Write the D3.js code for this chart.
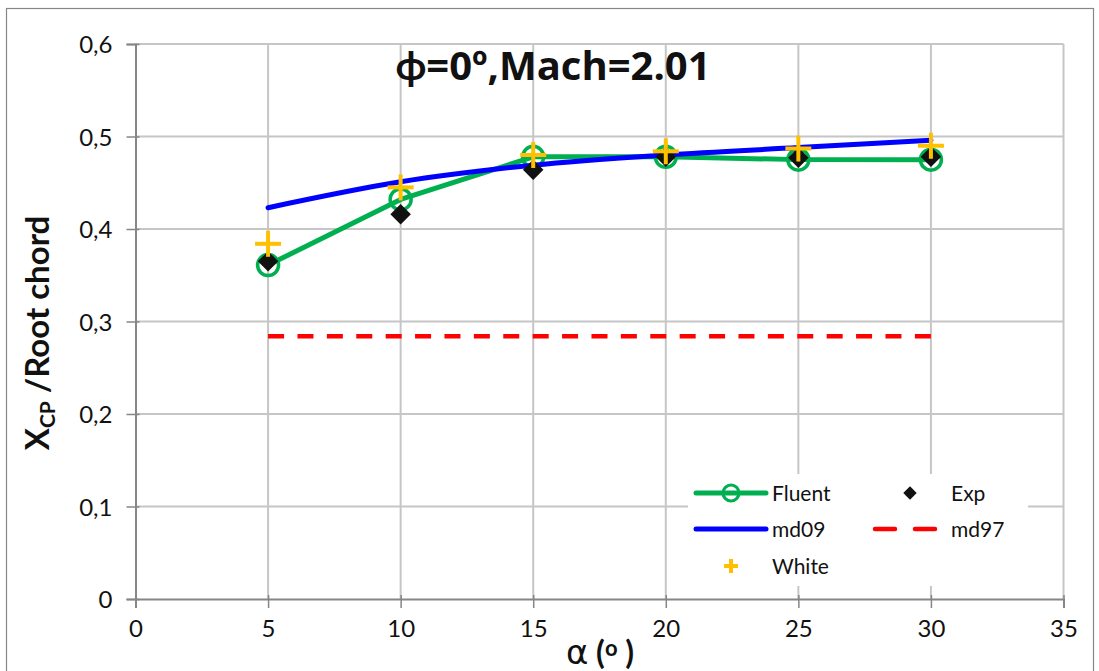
<!DOCTYPE html>
<html>
<head>
<meta charset="utf-8">
<script src="https://cdn.jsdelivr.net/npm/d3@7"></script>
<style>
  html, body { margin: 0; padding: 0; background: #fff; }
  svg { display: block; font-family: Lato, "Open Sans", "DejaVu Sans", sans-serif; }
</style>
</head>
<body>
<svg id="chart" width="1099" height="671"></svg>
<script>
// Angle of attack (deg)
const alpha = [5, 10, 15, 20, 25, 30];
// Centre of pressure position / root chord
const fluent = [0.361, 0.432, 0.478, 0.478, 0.475, 0.475];
const exp    = [0.365, 0.416, 0.464, 0.478, 0.477, 0.478];
const white  = [0.384, 0.445, 0.480, 0.484, 0.487, 0.490];
const md09   = [0.423, 0.451, 0.469, 0.480, 0.488, 0.496];
const md97   = [0.284, 0.284, 0.284, 0.284, 0.284, 0.284];

const xTicks = [0, 5, 10, 15, 20, 25, 30, 35];
const yTicks = [0, 0.1, 0.2, 0.3, 0.4, 0.5, 0.6];

const svg = d3.select("#chart");
const W = 1099, H = 671;
const plotL = 135.5, plotR = 1063.5, plotT = 44, plotB = 599;

const x = d3.scaleLinear().domain([0, 35]).range([plotL, plotR]);
const y = d3.scaleLinear().domain([0, 0.6]).range([plotB, plotT]);

// outer chart frame
svg.append("rect").attr("x", 6.5).attr("y", 8.5).attr("width", W - 12).attr("height", H - 4)
  .attr("fill", "#fff").attr("stroke", "#868686").attr("stroke-width", 1.2);

// grid lines
const grid = svg.append("g");
grid.selectAll(".gx").data(xTicks.slice(1)).join("line")
  .attr("x1", d => x(d)).attr("x2", d => x(d)).attr("y1", plotT).attr("y2", plotB)
  .attr("stroke", "#c6c6c6").attr("stroke-width", 2);
grid.selectAll(".gy").data(yTicks.slice(1)).join("line")
  .attr("x1", plotL).attr("x2", plotR).attr("y1", d => y(d)).attr("y2", d => y(d))
  .attr("stroke", "#c6c6c6").attr("stroke-width", 2);

const fmt = d => d === 0 ? "0" : d3.format(".1f")(d).replace(".", ",");

// axes
const xAxis = svg.append("g").attr("transform", `translate(0,${plotB})`)
  .call(d3.axisBottom(x).tickValues(xTicks).tickSize(9).tickPadding(12).tickFormat(d3.format("d")));
const yAxis = svg.append("g").attr("transform", `translate(${plotL},0)`)
  .call(d3.axisLeft(y).tickValues(yTicks).tickSize(9).tickPadding(14).tickFormat(fmt));
[xAxis, yAxis].forEach(a => {
  a.select(".domain").attr("stroke", "#868686").attr("stroke-width", 2);
  a.selectAll(".tick line").attr("stroke", "#868686").attr("stroke-width", 1.5);
  a.selectAll("text").attr("font-size", 24).attr("fill", "#111").attr("font-family", "Lato, 'Open Sans', sans-serif");
});
xAxis.selectAll(".tick line").attr("y1", -4);
yAxis.selectAll(".tick line").attr("x1", 4);
xAxis.selectAll("text").attr("dy", "0.71em");
yAxis.selectAll("text").attr("dy", "0.36em");

const pts = arr => alpha.map((a, i) => [a, arr[i]]);
const line = d3.line().x(d => x(d[0])).y(d => y(d[1]));
const smooth = d3.line().x(d => x(d[0])).y(d => y(d[1])).curve(d3.curveMonotoneX);

// Fluent
svg.append("path").attr("d", line(pts(fluent))).attr("fill", "none")
  .attr("stroke", "#00B050").attr("stroke-width", 5).attr("stroke-linejoin", "round");
svg.append("g").selectAll("circle").data(pts(fluent)).join("circle")
  .attr("cx", d => x(d[0])).attr("cy", d => y(d[1])).attr("r", 10.5)
  .attr("fill", "none").attr("stroke", "#00B050").attr("stroke-width", 3.5);

// md09
svg.append("path").attr("d", smooth(pts(md09))).attr("fill", "none")
  .attr("stroke", "#0000FF").attr("stroke-width", 5).attr("stroke-linecap", "round");

// md97
svg.append("path").attr("d", line(pts(md97))).attr("fill", "none")
  .attr("stroke", "#FF0000").attr("stroke-width", 4.5).attr("stroke-dasharray", "16,13.4");

// Exp
svg.append("g").selectAll("path").data(pts(exp)).join("path")
  .attr("d", d3.symbol().type(d3.symbolSquare).size(210))
  .attr("transform", d => `translate(${x(d[0])},${y(d[1])}) rotate(45)`)
  .attr("fill", "#111");

// White
const plus = (g, cx, cy, s, w) => {
  g.append("line").attr("x1", cx - s).attr("x2", cx + s).attr("y1", cy).attr("y2", cy)
    .attr("stroke", "#FFC000").attr("stroke-width", w);
  g.append("line").attr("x1", cx).attr("x2", cx).attr("y1", cy - s).attr("y2", cy + s)
    .attr("stroke", "#FFC000").attr("stroke-width", w);
};
const wg = svg.append("g");
pts(white).forEach(d => plus(wg, x(d[0]), y(d[1]), 13, 4));

// title
svg.append("text").attr("x", 553).attr("y", 80).attr("text-anchor", "middle")
  .attr("font-size", 40).attr("font-weight", "bold").attr("fill", "#111")
  .attr("font-family", "'Open Sans', Lato, sans-serif")
  .text("ϕ=0º,Mach=2.01");

// y axis title
const yt = svg.append("text").attr("transform", "translate(49,333) rotate(-90)")
  .attr("text-anchor", "middle").attr("font-size", 33).attr("font-weight", "bold").attr("fill", "#111");
yt.append("tspan").text("X");
yt.append("tspan").attr("font-size", 21).attr("dy", 6).text("CP");
yt.append("tspan").attr("dy", -6).text(" /Root chord");

// x axis title
const xt = svg.append("text").attr("x", 600).attr("y", 664).attr("text-anchor", "middle")
  .attr("font-size", 32).attr("fill", "#111");
xt.append("tspan").attr("font-family", "'DejaVu Sans', sans-serif").attr("font-size", 34).text("α");
xt.append("tspan").attr("font-weight", "bold").text(" (");
xt.append("tspan").attr("font-weight", "bold").attr("font-size", 22).attr("dy", -8).text("o");
xt.append("tspan").attr("font-weight", "bold").attr("dy", 8).text(" )");

// legend
const lg = svg.append("g");
lg.append("rect").attr("x", 688).attr("y", 474).attr("width", 340).attr("height", 112).attr("fill", "#fff");
const ltext = (tx, ty, s) => lg.append("text").attr("x", tx).attr("y", ty).attr("dy", "0.36em")
  .attr("font-size", 21).attr("fill", "#111").text(s);

lg.append("line").attr("x1", 696).attr("x2", 766).attr("y1", 493).attr("y2", 493)
  .attr("stroke", "#00B050").attr("stroke-width", 5).attr("stroke-linecap", "round");
lg.append("circle").attr("cx", 731).attr("cy", 493).attr("r", 8).attr("fill", "none")
  .attr("stroke", "#00B050").attr("stroke-width", 3);
ltext(772, 493, "Fluent");

lg.append("path").attr("d", d3.symbol().type(d3.symbolSquare).size(90))
  .attr("transform", "translate(910,493) rotate(45)").attr("fill", "#111");
ltext(951, 493, "Exp");

lg.append("line").attr("x1", 696).attr("x2", 766).attr("y1", 529).attr("y2", 529)
  .attr("stroke", "#0000FF").attr("stroke-width", 5).attr("stroke-linecap", "round");
ltext(772, 529, "md09");

lg.append("line").attr("x1", 875).attr("x2", 935).attr("y1", 529).attr("y2", 529)
  .attr("stroke", "#FF0000").attr("stroke-width", 4.5).attr("stroke-dasharray", "20,20").attr("stroke-linecap", "round");
ltext(951, 529, "md97");

plus(lg, 731, 566, 7, 4);
ltext(772, 566, "White");
</script>
</body>
</html>
